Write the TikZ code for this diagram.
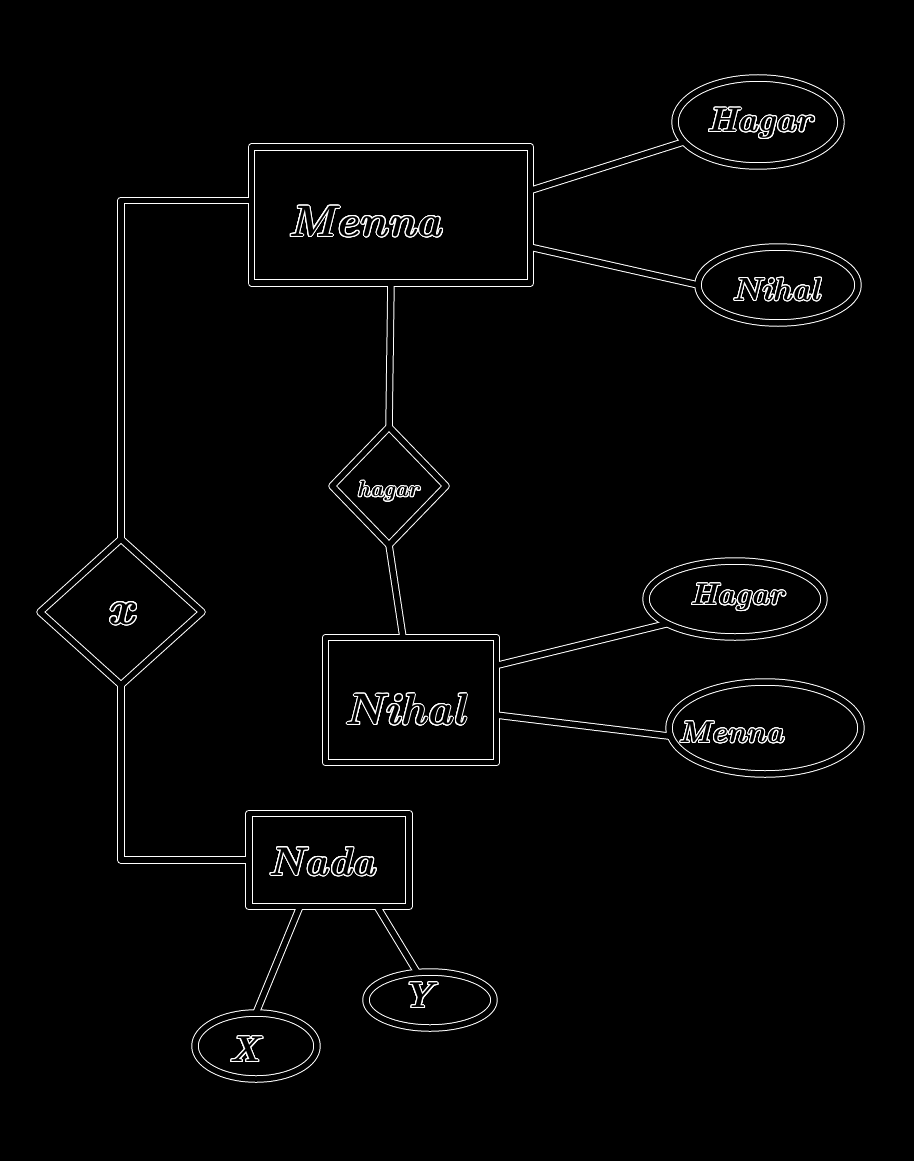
\documentclass[tikz,border=0pt]{standalone}
\usetikzlibrary{shapes.geometric}
\usepackage{contour}
\contourlength{1pt}
\contournumber{24}
\newcommand\hw[1]{\contour{white}{\color{black}#1}}
\newcommand\erlayer[1]{%
  % nodes
  \node[ent,#1,minimum width=279pt,minimum height=136pt] (menna) at (391,215) {};
  \node[att,#1,minimum width=166pt,minimum height=88pt] (hagarA) at (758,122) {};
  \node[att,#1,minimum width=160pt,minimum height=76pt] (nihalA) at (778,285) {};
  \node[rel,#1,minimum width=114pt,minimum height=118pt] (hagR) at (389,486) {};
  \node[ent,#1,minimum width=171pt,minimum height=125pt] (nihal) at (411,700) {};
  \node[att,#1,minimum width=178pt,minimum height=76pt] (hagarB) at (735,599) {};
  \node[att,#1,minimum width=192pt,minimum height=92pt] (mennaB) at (765,728) {};
  \node[rel,#1,minimum width=162pt,minimum height=146pt] (xR) at (121,612) {};
  \node[ent,#1,minimum width=160pt,minimum height=93pt] (nada) at (329,860) {};
  \node[att,#1,minimum width=122pt,minimum height=66pt] (xE) at (256,1046) {};
  \node[att,#1,minimum width=128pt,minimum height=56pt] (yE) at (430,1000) {};
  % connectors
  \draw[#1] (menna.10) -- (hagarA.195);
  \draw[#1] (menna.-13) -- (nihalA.180);
  \draw[#1] (menna.south) -- (hagR.north);
  \draw[#1] (hagR.south) -- ([xshift=-8pt]nihal.north);
  \draw[#1] (nihal.22) -- (hagarB.200);
  \draw[#1] (nihal.-10) -- (mennaB.185);
  \draw[#1] (menna.174) -| (xR.north);
  \draw[#1] (xR.south) |- (nada.west);
  \draw[#1] (nada.-122) -- (xE.north);
  \draw[#1] (nada.-44) -- (yE.115);
}
\begin{document}
\begin{tikzpicture}[x=1pt,y=-1pt,line join=round,
  lay1/.style={draw=white,line width=7.5pt},
  lay2/.style={draw=black,line width=5.5pt},
  ent/.style={rectangle,inner sep=0pt,outer sep=0pt},
  att/.style={ellipse,inner sep=0pt,outer sep=0pt},
  rel/.style={diamond,inner sep=0pt,outer sep=0pt},
  lbl/.style={inner sep=0pt}]
\fill[black] (0,0) rectangle (914,1161);
\useasboundingbox (0,0) rectangle (914,1161);
\erlayer{lay1}
\erlayer{lay2}
% labels
\node[lbl,font=\bfseries\itshape\fontsize{44}{48}\selectfont] (tMenna) at (365,222) {\hw{Menna}};
\node[lbl,font=\bfseries\itshape\fontsize{34}{38}\selectfont] (tHagarA) at (760,124) {\hw{Hagar}};
\node[lbl,font=\bfseries\itshape\fontsize{32}{36}\selectfont] (tNihalA) at (776,290) {\hw{Nihal}};
\node[lbl,font=\bfseries\itshape\fontsize{22}{26}\selectfont] (tHagR) at (388,492) {\hw{hagar}};
\node[lbl,font=\bfseries\itshape\fontsize{48}{52}\selectfont] (tX) at (121,614) {\hw{x}};
\node[lbl,font=\bfseries\itshape\fontsize{44}{48}\selectfont] (tNihal) at (405,710) {\hw{Nihal}};
\node[lbl,font=\bfseries\itshape\fontsize{30}{34}\selectfont] (tHagarB) at (737,598) {\hw{Hagar}};
\node[lbl,font=\bfseries\itshape\fontsize{30}{34}\selectfont] (tMennaB) at (731,733) {\hw{Menna}};
\node[lbl,font=\bfseries\itshape\fontsize{40}{44}\selectfont] (tNada) at (322,862) {\hw{Nada}};
\node[lbl,font=\bfseries\itshape\fontsize{36}{40}\selectfont] (tXE) at (245,1050) {\hw{X}};
\node[lbl,font=\bfseries\itshape\fontsize{36}{40}\selectfont] (tYE) at (418,996) {\hw{Y}};
\end{tikzpicture}
\end{document}
